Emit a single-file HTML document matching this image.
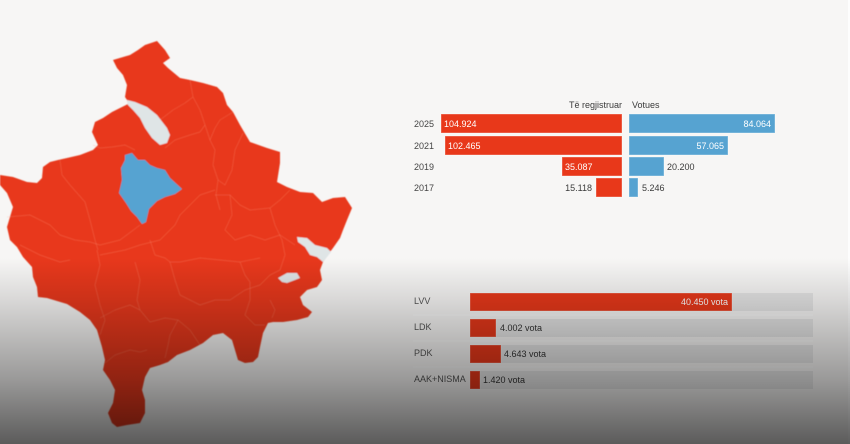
<!DOCTYPE html>
<html>
<head>
<meta charset="utf-8">
<style>
  html,body{margin:0;padding:0;background:#f7f6f5;}
  body{width:850px;height:444px;overflow:hidden;position:relative;}
  svg{display:block;}
  text{font-family:"Liberation Sans",sans-serif;font-size:9px;}
</style>
</head>
<body>
<svg width="850" height="444" viewBox="0 0 850 444" xmlns="http://www.w3.org/2000/svg">
  <defs>
    <linearGradient id="shade" gradientUnits="userSpaceOnUse" x1="0" y1="0" x2="0" y2="444">
      <stop offset="0" stop-color="#000" stop-opacity="0"/>
      <stop offset="0.581" stop-color="#000" stop-opacity="0"/>
      <stop offset="0.676" stop-color="#000" stop-opacity="0.125"/>
      <stop offset="0.856" stop-color="#000" stop-opacity="0.38"/>
      <stop offset="1" stop-color="#000" stop-opacity="0.63"/>
    </linearGradient>
    <filter id="soft" x="-5%" y="-5%" width="110%" height="110%">
      <feGaussianBlur stdDeviation="0.45"/>
    </filter>
  </defs>

  <rect x="0" y="0" width="850" height="444" fill="#f7f6f5"/>
  <rect x="848" y="0" width="2" height="444" fill="#fdfdfd"/>

  <!-- MAP -->
  <g filter="url(#soft)">
  <polygon fill="#e8381a" points="157,41 165,50 170,58 163,63 168,68 180,78 190,80 203,83 217,87 223,93 227,105 233,112 240,125 250,142 267,148 280,152 280,163 277,182 287,187 300,192 313,193 322,202 333,198 345,197 352,208 347,220 343,230 340,238 333,248 330,252 323,262 320,270 322,280 317,287 307,290 300,297 303,305 312,312 308,317 297,320 283,322 273,322 268,323 263,333 260,347 258,357 253,362 245,363 238,360 235,350 232,340 223,333 213,335 203,343 190,350 177,355 168,362 160,365 150,368 145,377 142,390 145,400 145,413 140,423 127,425 117,427 112,423 108,413 113,403 115,390 110,380 103,370 105,360 102,347 97,330 90,320 80,312 67,304 47,298 38,297 37,287 33,277 32,267 23,257 17,247 10,240 7,227 10,217 13,207 7,193 0,185 0,175 13,177 27,182 37,183 42,178 43,167 50,162 58,160 67,158 80,155 93,150 98,145 92,132 95,122 103,118 112,112 122,107 128,104 127,100 125,97 127,85 123,75 117,68 113,60 130,55 138,50 145,45"/>

  <!-- internal borders -->
  <g fill="none" stroke="#ff9c85" stroke-opacity="0.3" stroke-width="0.7" stroke-linejoin="round">
    <polyline points="190,80 193,97 200,110 205,125 210,140 215,150 213,165 218,180 216,195 220,210"/>
    <polyline points="160,120 173,110 185,103 193,97"/>
    <polyline points="165,148 175,140 190,135 200,132 205,125"/>
    <polyline points="93,145 100,148 112,147 125,145 135,150"/>
    <polyline points="60,160 62,175 70,185 85,202 90,220 95,240 98,250"/>
    <polyline points="7,217 30,215 50,225 60,235 75,240 90,242 100,245 120,240 140,225"/>
    <polyline points="20,245 40,255 60,262 70,260"/>
    <polyline points="97,250 100,265 95,285 100,305 105,320 100,335"/>
    <polyline points="100,255 125,250 140,245 160,240 175,225 180,215 190,205 200,195 215,190"/>
    <polyline points="150,240 155,255 165,258 170,262 180,262 200,258 220,260 240,262 260,258"/>
    <polyline points="135,262 140,280 137,300 140,310 150,322 165,318 178,320 190,330 200,345"/>
    <polyline points="100,318 115,310 130,305 140,310"/>
    <polyline points="170,262 175,280 180,295 190,300 200,305 215,300 230,300 245,290 260,285 270,275"/>
    <polyline points="250,282 250,300 245,315 255,325 265,325"/>
    <polyline points="215,195 230,195 240,205 250,210 270,208 280,200 290,190"/>
    <polyline points="230,195 232,215 225,230 235,240 250,235 265,240 280,235 295,245"/>
    <polyline points="270,208 275,225 282,240 285,255 280,270 270,275"/>
    <polyline points="105,363 115,355 130,350 140,352 147,350"/>
    <polyline points="178,320 170,335 168,345 165,358"/>
    <polyline points="240,262 245,275 250,282"/>
    <polyline points="233,112 220,120 215,128 210,140"/>
    <polyline points="243,133 235,150 232,170 225,185 218,180"/>
    <polyline points="270,300 275,310 272,318"/>
  </g>

  <!-- blue municipality -->
  <polygon fill="#56a3d1" points="125,155 132,153 138,160 145,160 150,165 157,168 165,170 170,178 182,189 175,194 165,197 157,201 149,209 146,222 142,224 137,217 131,211 126,203 119,193 122,180 121,168 125,160"/>

  <!-- gray areas -->
  <polygon fill="#dfe5e6" points="127,100 135,102 147,107 157,115 167,128 170,135 167,143 160,145 152,138 145,128 140,118 133,110 128,105"/>
  <polygon fill="#dfe5e6" points="297,237 307,238 315,245 327,248 331,252 323,262 317,257 310,255 305,247 298,242"/>
  <polygon fill="#dfe5e6" points="278,278 287,273 297,273 300,278 295,280 287,283 282,282"/>
  </g>

  <!-- TOP BAR CHART -->
  <text x="622" y="108" text-anchor="end" fill="#3a3a3a">Të regjistruar</text>
  <text x="632" y="108" fill="#3a3a3a">Votues</text>

  <g fill="#444">
    <text x="414" y="127">2025</text>
    <text x="414" y="149">2021</text>
    <text x="414" y="170">2019</text>
    <text x="414" y="191">2017</text>
  </g>

  <g stroke="#ffffff" stroke-opacity="0.35" stroke-width="1">
    <rect x="441" y="114" width="181" height="19" fill="#e8381a"/>
    <rect x="445" y="136" width="177" height="19" fill="#e8381a"/>
    <rect x="562" y="157" width="60" height="19" fill="#e8381a"/>
    <rect x="596" y="178" width="26" height="19" fill="#e8381a"/>
    <rect x="629" y="114" width="146" height="19" fill="#56a3d1"/>
    <rect x="629" y="136" width="99" height="19" fill="#56a3d1"/>
    <rect x="629" y="157" width="35" height="19" fill="#56a3d1"/>
    <rect x="629" y="178" width="9" height="19" fill="#56a3d1"/>
  </g>

  <g fill="#ffffff">
    <text x="444" y="127">104.924</text>
    <text x="448" y="149">102.465</text>
    <text x="565" y="170">35.087</text>
    <text x="771" y="127" text-anchor="end">84.064</text>
    <text x="724" y="149" text-anchor="end">57.065</text>
  </g>
  <g fill="#3a3a3a">
    <text x="592" y="191" text-anchor="end">15.118</text>
    <text x="667" y="170">20.200</text>
    <text x="642" y="191">5.246</text>
  </g>

  <!-- BOTTOM BAR CHART -->
  <g fill="#e6e6e6">
    <rect x="470" y="293" width="343" height="18"/>
    <rect x="470" y="319" width="343" height="18"/>
    <rect x="470" y="345" width="343" height="18"/>
    <rect x="470" y="371" width="343" height="18"/>
  </g>
  <g stroke="#ffffff" stroke-opacity="0.55" stroke-width="1">
    <line x1="413" y1="315" x2="813" y2="315"/>
    <line x1="413" y1="341" x2="813" y2="341"/>
    <line x1="413" y1="367" x2="813" y2="367"/>
  </g>
  <g fill="#e8381a" stroke="#ffffff" stroke-opacity="0.3" stroke-width="1">
    <rect x="470" y="293" width="262" height="18"/>
    <rect x="470" y="319" width="26" height="18"/>
    <rect x="470" y="345" width="31" height="18"/>
    <rect x="470" y="371" width="10" height="18"/>
  </g>
  <g fill="#555">
    <text x="414" y="304">LVV</text>
    <text x="414" y="330">LDK</text>
    <text x="414" y="356">PDK</text>
    <text x="414" y="382">AAK+NISMA</text>
  </g>
  <text x="728" y="305" text-anchor="end" fill="#ffffff">40.450 vota</text>
  <g fill="#333">
    <text x="500" y="331">4.002 vota</text>
    <text x="504" y="357">4.643 vota</text>
    <text x="483" y="383">1.420 vota</text>
  </g>

  <!-- dark vertical fade overlay -->
  <rect x="0" y="0" width="850" height="444" fill="url(#shade)"/>
</svg>
</body>
</html>
